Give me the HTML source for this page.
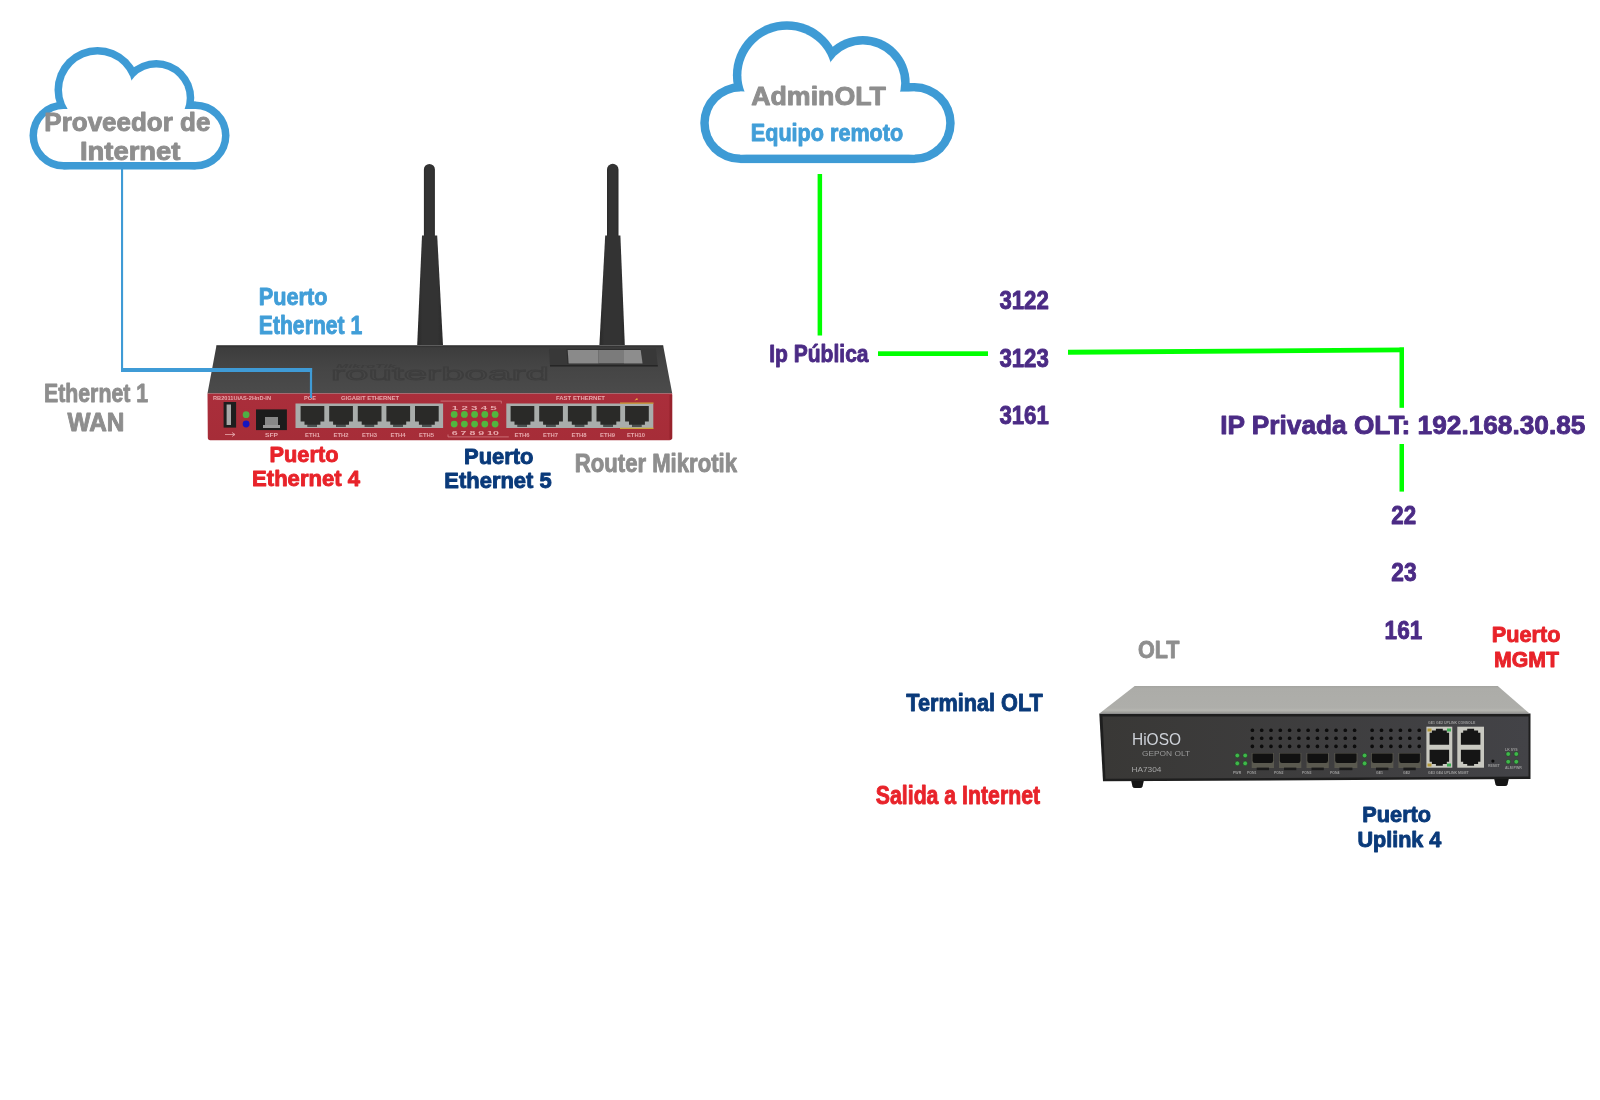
<!DOCTYPE html>
<html><head><meta charset="utf-8">
<style>
html,body{margin:0;padding:0;background:#fff;width:1600px;height:1100px;overflow:hidden;}
svg{position:absolute;left:0;top:0;will-change:transform;}
text{font-family:"Liberation Sans",sans-serif;font-weight:bold;}
</style></head><body>
<svg width="1600" height="1100" viewBox="0 0 1600 1100">
<!-- cloud 1 -->
<g fill="#3e9bd5">
<circle cx="97.5" cy="90" r="43"/><circle cx="156.25" cy="98" r="38"/>
<circle cx="63.5" cy="135.5" r="34"/><circle cx="195.5" cy="135.5" r="34"/>
<rect x="63.5" y="101.5" width="132" height="68"/>
</g>
<g fill="#fff">
<circle cx="97.5" cy="90" r="35.5"/><circle cx="156.25" cy="98" r="30.5"/>
<circle cx="63.5" cy="135.5" r="26.5"/><circle cx="195.5" cy="135.5" r="26.5"/>
<rect x="63.5" y="109" width="132" height="53"/><rect x="95" y="88" width="75" height="24"/>
</g>
<!-- cloud 2 -->
<g fill="#3e9bd5">
<circle cx="786.9" cy="75.2" r="54"/><circle cx="862.8" cy="82.9" r="46.9"/>
<circle cx="740.25" cy="123.1" r="40"/><circle cx="914.7" cy="123.1" r="40"/>
<rect x="740.25" y="83.1" width="174.45" height="80"/>
</g>
<g fill="#fff">
<circle cx="786.9" cy="75.2" r="45.5"/><circle cx="862.8" cy="82.9" r="38.4"/>
<circle cx="740.25" cy="123.1" r="31.5"/><circle cx="914.7" cy="123.1" r="31.5"/>
<rect x="740.25" y="91.6" width="174.45" height="63"/>
</g>
<!-- green lines -->
<g fill="#00ff00">
<rect x="817.6" y="174" width="4.5" height="161.5"/>
<rect x="878" y="351.3" width="110" height="4.7"/>
<polygon points="1068,349.8 1404,347.5 1404,352.3 1068,354.8"/>
<rect x="1399.5" y="347.5" width="4.5" height="60.3"/>
<rect x="1399.5" y="444" width="4.5" height="47.6"/>
</g>
<!-- ROUTER -->
<defs>
<linearGradient id="antg" x1="0" x2="1" y1="0" y2="0">
<stop offset="0" stop-color="#2a2a2a"/><stop offset="0.2" stop-color="#333"/><stop offset="0.8" stop-color="#333"/><stop offset="1" stop-color="#2a2a2a"/>
</linearGradient>
<linearGradient id="rtop" x1="0" x2="0" y1="0" y2="1">
<stop offset="0" stop-color="#363636"/><stop offset="0.05" stop-color="#3d3d3d"/><stop offset="0.45" stop-color="#454545"/><stop offset="1" stop-color="#4b4b4b"/>
</linearGradient>
<linearGradient id="rfront" x1="0" x2="0" y1="0" y2="1">
<stop offset="0" stop-color="#aa2e3b"/><stop offset="1" stop-color="#a62d38"/>
</linearGradient>
<symbol id="rj" viewBox="0 0 23.7 21" overflow="visible">
<path d="M0 0H23.7V15.5H19.8V18.7H16.3V21H7V18.7H3.9V15.5H0Z" fill="#2a2a28"/>
<rect x="7" y="18.7" width="9.3" height="2.3" fill="#4a4f4f"/>
</symbol>
</defs>
<!-- antennas -->
<g fill="url(#antg)">
<path d="M423.9 236V169.5A5.5 5.5 0 0 1 434.9 169.5V236Z"/>
<path d="M422 235.5H437.2L443 345H417.2Z"/>
<path d="M607 236V169.5A5.75 5.75 0 0 1 618.5 169.5V236Z"/>
<path d="M605.2 235.5H620.4L624.8 345H599.4Z"/>
</g>
<!-- top face -->
<path d="M216.4 345.8H663.2L672.2 393.5H207.5Z" fill="url(#rtop)"/>
<path d="M216.4 345.8H663.2" stroke="#2e2e2e" stroke-width="1"/>
<!-- LCD -->
<path d="M549 348.6H655.9L657.8 366.2H550Z" fill="#383838"/>
<path d="M550 365H657.7L657.8 366.4H550Z" fill="#262626"/>
<path d="M566.5 349H640.5L642.5 364H567.5Z" fill="#2e2e2e"/>
<path d="M567.7 350H598.7V363.4H568.6Z" fill="#8a8a8a"/>
<path d="M598.7 350H624V363.4H598.7Z" fill="#7b7b7b"/>
<path d="M624 350H640.7L642.6 363.4H624Z" fill="#8d8d8d"/>
<!-- logo -->
<text x="331" y="380" font-size="19" fill="#474747" stroke="#3d3d3d" stroke-width="1" textLength="218" lengthAdjust="spacingAndGlyphs" style="font-weight:normal">routerboard</text>
<text x="336" y="368" font-size="6" fill="#3d3d3d" textLength="60" lengthAdjust="spacingAndGlyphs" style="font-style:italic">MikroTik</text>
<!-- front panel -->
<path d="M207.5 393.5H672.2V437.5Q672.2 440.2 669.5 440.2H210.2Q207.8 440.2 207.8 437.5Z" fill="url(#rfront)"/>
<rect x="669.5" y="395" width="2.7" height="44" fill="#8e1c25" opacity="0.6"/>
<!-- USB -->
<rect x="223.6" y="402" width="12.5" height="25.6" fill="#1e1e1e"/>
<rect x="226.6" y="404.5" width="4.4" height="20.5" fill="#a8a8a8"/>
<circle cx="246.1" cy="414.7" r="3.4" fill="#4fae45"/>
<circle cx="246.1" cy="424" r="3.4" fill="#1515c0"/>
<!-- SFP -->
<rect x="256" y="409.4" width="30.9" height="20.7" fill="#1c1c1c"/>
<rect x="265" y="417" width="13" height="8" fill="#888"/>
<rect x="263" y="425" width="17" height="3" fill="#999"/>
<!-- gigabit frame -->
<rect x="295.5" y="403.5" width="147.6" height="24.5" fill="#a9adab"/>
<use href="#rj" x="300.6" y="406" width="23.7" height="21"/>
<use href="#rj" x="329.2" y="406" width="23.7" height="21"/>
<use href="#rj" x="357.8" y="406" width="23.7" height="21"/>
<use href="#rj" x="386.4" y="406" width="23.7" height="21"/>
<use href="#rj" x="415" y="406" width="23.7" height="21"/>
<!-- fast frame -->
<rect x="506.3" y="403.5" width="147" height="24.5" fill="#a9adab"/>
<path d="M620 403.1H653.5M620 428.4H653.5" stroke="#c9a33a" stroke-width="1.3"/><path d="M634.5 400.5l2.5-2.5 1 1.5z" fill="#e8b84a"/>
<use href="#rj" x="510.6" y="406" width="23.7" height="21"/>
<use href="#rj" x="539.2" y="406" width="23.7" height="21"/>
<use href="#rj" x="567.9" y="406" width="23.7" height="21"/>
<use href="#rj" x="596.5" y="406" width="23.7" height="21"/>
<use href="#rj" x="625.1" y="406" width="23.7" height="21"/>
<!-- LEDs -->
<g fill="#52b63f">
<circle cx="454.2" cy="414.4" r="3.4"/><circle cx="464.4" cy="414.4" r="3.4"/><circle cx="474.6" cy="414.4" r="3.4"/><circle cx="484.8" cy="414.4" r="3.4"/><circle cx="495.1" cy="414.4" r="3.4"/>
<circle cx="454.2" cy="424.1" r="3.4"/><circle cx="464.4" cy="424.1" r="3.4"/><circle cx="474.6" cy="424.1" r="3.4"/><circle cx="484.8" cy="424.1" r="3.4"/><circle cx="495.1" cy="424.1" r="3.4"/>
</g>
<path d="M440.5 401.1H501.3V403.5M448 434.5V436.9H508.8" fill="none" stroke="#d98a8f" stroke-width="0.7"/>
<g fill="#e7a9ad" style="font-weight:normal" font-size="6">
<text x="213" y="400" textLength="58" lengthAdjust="spacingAndGlyphs">RB2011UiAS-2HnD-IN</text>
<text x="304" y="400" textLength="12" lengthAdjust="spacingAndGlyphs">POE</text>
<text x="341" y="400" textLength="58" lengthAdjust="spacingAndGlyphs">GIGABIT ETHERNET</text>
<text x="556" y="400" textLength="49" lengthAdjust="spacingAndGlyphs">FAST ETHERNET</text>
<text x="451.8" y="409.5" textLength="45" lengthAdjust="spacingAndGlyphs">1  2  3  4  5</text>
<text x="451.8" y="434.5" textLength="47" lengthAdjust="spacingAndGlyphs">6  7  8  9 10</text>
<text x="265" y="437" textLength="13" lengthAdjust="spacingAndGlyphs">SFP</text>
<text x="305" y="437" textLength="15" lengthAdjust="spacingAndGlyphs">ETH1</text>
<text x="333.5" y="437" textLength="15" lengthAdjust="spacingAndGlyphs">ETH2</text>
<text x="362" y="437" textLength="15" lengthAdjust="spacingAndGlyphs">ETH3</text>
<text x="390.5" y="437" textLength="15" lengthAdjust="spacingAndGlyphs">ETH4</text>
<text x="419" y="437" textLength="15" lengthAdjust="spacingAndGlyphs">ETH5</text>
<text x="514.5" y="437" textLength="15" lengthAdjust="spacingAndGlyphs">ETH6</text>
<text x="543" y="437" textLength="15" lengthAdjust="spacingAndGlyphs">ETH7</text>
<text x="571.5" y="437" textLength="15" lengthAdjust="spacingAndGlyphs">ETH8</text>
<text x="600" y="437" textLength="15" lengthAdjust="spacingAndGlyphs">ETH9</text>
<text x="627" y="437" textLength="18" lengthAdjust="spacingAndGlyphs">ETH10</text>
</g>
<path d="M225 434.5H235M232 432.5L235 434.5L232 436.5" stroke="#e7a9ad" stroke-width="0.8" fill="none"/>
<!-- /ROUTER -->
<!-- WIRE -->
<g fill="#3f9bd6">
<rect x="121" y="168" width="2.1" height="204"/>
<rect x="121" y="368" width="191.1" height="4"/>
<rect x="309.9" y="368" width="2.2" height="30"/>
</g>
<!-- /WIRE -->
<!-- OLT -->
<defs>
<linearGradient id="otop" x1="0" x2="0" y1="0" y2="1">
<stop offset="0" stop-color="#a4a4a0"/><stop offset="0.1" stop-color="#acaca8"/><stop offset="0.82" stop-color="#aeaeaa"/><stop offset="0.9" stop-color="#b6b6b1"/><stop offset="1" stop-color="#9a9a96"/>
</linearGradient>
<linearGradient id="ofront" x1="0" x2="1" y1="0" y2="0">
<stop offset="0" stop-color="#393836"/><stop offset="1" stop-color="#434347"/>
</linearGradient>
<symbol id="ojack2" viewBox="0 0 20 17" overflow="visible">
<path d="M1.5 15.5H18.5V5H16.5V3H13V1.5H7V3H3.5V5H1.5Z" fill="#151515"/>
</symbol>
<symbol id="ojack" viewBox="0 0 20 17" overflow="visible">
<path d="M1.5 1.5H18.5V12H16.5V14H13V15.5H7V14H3.5V12H1.5Z" fill="#151515"/>
</symbol>
</defs>
<path d="M1131 780H1144L1142.5 786.5Q1142 788 1140 788H1135Q1133 788 1132.5 786.5Z" fill="#151515"/>
<path d="M1494 778H1509L1507.5 784.5Q1507 786 1505 786H1498Q1496 786 1495.5 784.5Z" fill="#151515"/>
<path d="M1134.7 685.9H1497.8L1529 713H1100Z" fill="url(#otop)"/>
<path d="M1099.3 713.5H1530.5V779L1103 781.3Z" fill="#1e1e1e"/>
<path d="M1102.5 716.5H1528.5V776.5L1105.5 778.8Z" fill="url(#ofront)"/>
<text x="1132" y="744.8" font-size="16.5" fill="#cfd3da" textLength="49" lengthAdjust="spacingAndGlyphs" style="font-weight:normal">HiOSO</text>
<text x="1142" y="756" font-size="7.5" fill="#9a9a9a" textLength="48" lengthAdjust="spacingAndGlyphs" style="font-weight:normal">GEPON OLT</text>
<text x="1131.4" y="772.3" font-size="7.5" fill="#a5a5a5" textLength="30" lengthAdjust="spacingAndGlyphs" style="font-weight:normal">HA7304</text>
<g fill="#0c0c0c"><rect x="1250.6" y="728.5" width="3.6" height="3.6" rx="1.6"/><rect x="1250.6" y="736.4" width="3.6" height="3.6" rx="1.6"/><rect x="1250.6" y="744.6" width="3.6" height="3.6" rx="1.6"/><rect x="1259.9" y="728.5" width="3.6" height="3.6" rx="1.6"/><rect x="1259.9" y="736.4" width="3.6" height="3.6" rx="1.6"/><rect x="1259.9" y="744.6" width="3.6" height="3.6" rx="1.6"/><rect x="1269.2" y="728.5" width="3.6" height="3.6" rx="1.6"/><rect x="1269.2" y="736.4" width="3.6" height="3.6" rx="1.6"/><rect x="1269.2" y="744.6" width="3.6" height="3.6" rx="1.6"/><rect x="1278.5" y="728.5" width="3.6" height="3.6" rx="1.6"/><rect x="1278.5" y="736.4" width="3.6" height="3.6" rx="1.6"/><rect x="1278.5" y="744.6" width="3.6" height="3.6" rx="1.6"/><rect x="1287.8" y="728.5" width="3.6" height="3.6" rx="1.6"/><rect x="1287.8" y="736.4" width="3.6" height="3.6" rx="1.6"/><rect x="1287.8" y="744.6" width="3.6" height="3.6" rx="1.6"/><rect x="1297.1" y="728.5" width="3.6" height="3.6" rx="1.6"/><rect x="1297.1" y="736.4" width="3.6" height="3.6" rx="1.6"/><rect x="1297.1" y="744.6" width="3.6" height="3.6" rx="1.6"/><rect x="1306.3" y="728.5" width="3.6" height="3.6" rx="1.6"/><rect x="1306.3" y="736.4" width="3.6" height="3.6" rx="1.6"/><rect x="1306.3" y="744.6" width="3.6" height="3.6" rx="1.6"/><rect x="1315.6" y="728.5" width="3.6" height="3.6" rx="1.6"/><rect x="1315.6" y="736.4" width="3.6" height="3.6" rx="1.6"/><rect x="1315.6" y="744.6" width="3.6" height="3.6" rx="1.6"/><rect x="1324.9" y="728.5" width="3.6" height="3.6" rx="1.6"/><rect x="1324.9" y="736.4" width="3.6" height="3.6" rx="1.6"/><rect x="1324.9" y="744.6" width="3.6" height="3.6" rx="1.6"/><rect x="1334.2" y="728.5" width="3.6" height="3.6" rx="1.6"/><rect x="1334.2" y="736.4" width="3.6" height="3.6" rx="1.6"/><rect x="1334.2" y="744.6" width="3.6" height="3.6" rx="1.6"/><rect x="1343.5" y="728.5" width="3.6" height="3.6" rx="1.6"/><rect x="1343.5" y="736.4" width="3.6" height="3.6" rx="1.6"/><rect x="1343.5" y="744.6" width="3.6" height="3.6" rx="1.6"/><rect x="1352.8" y="728.5" width="3.6" height="3.6" rx="1.6"/><rect x="1352.8" y="736.4" width="3.6" height="3.6" rx="1.6"/><rect x="1352.8" y="744.6" width="3.6" height="3.6" rx="1.6"/><rect x="1370.3" y="728.5" width="3.6" height="3.6" rx="1.6"/><rect x="1370.3" y="736.4" width="3.6" height="3.6" rx="1.6"/><rect x="1370.3" y="744.6" width="3.6" height="3.6" rx="1.6"/><rect x="1379.7" y="728.5" width="3.6" height="3.6" rx="1.6"/><rect x="1379.7" y="736.4" width="3.6" height="3.6" rx="1.6"/><rect x="1379.7" y="744.6" width="3.6" height="3.6" rx="1.6"/><rect x="1389.1" y="728.5" width="3.6" height="3.6" rx="1.6"/><rect x="1389.1" y="736.4" width="3.6" height="3.6" rx="1.6"/><rect x="1389.1" y="744.6" width="3.6" height="3.6" rx="1.6"/><rect x="1398.6" y="728.5" width="3.6" height="3.6" rx="1.6"/><rect x="1398.6" y="736.4" width="3.6" height="3.6" rx="1.6"/><rect x="1398.6" y="744.6" width="3.6" height="3.6" rx="1.6"/><rect x="1408.0" y="728.5" width="3.6" height="3.6" rx="1.6"/><rect x="1408.0" y="736.4" width="3.6" height="3.6" rx="1.6"/><rect x="1408.0" y="744.6" width="3.6" height="3.6" rx="1.6"/><rect x="1417.4" y="728.5" width="3.6" height="3.6" rx="1.6"/><rect x="1417.4" y="736.4" width="3.6" height="3.6" rx="1.6"/><rect x="1417.4" y="744.6" width="3.6" height="3.6" rx="1.6"/></g>
<rect x="1251.7" y="753" width="22.3" height="15" fill="#5a594f"/>
<path d="M1252.5 753.5H1273.2V760.5Q1273.2 763 1271.0 763H1254.7Q1252.5 763 1252.5 760.5Z" fill="#111"/>
<rect x="1256.7" y="767.6" width="12.3" height="2.6" fill="#1b1b1b"/>
<rect x="1279.0" y="753" width="22.3" height="15" fill="#5a594f"/>
<path d="M1279.8 753.5H1300.5V760.5Q1300.5 763 1298.3 763H1282.0Q1279.8 763 1279.8 760.5Z" fill="#111"/>
<rect x="1284.0" y="767.6" width="12.3" height="2.6" fill="#1b1b1b"/>
<rect x="1306.5" y="753" width="22.3" height="15" fill="#5a594f"/>
<path d="M1307.3 753.5H1328.0V760.5Q1328.0 763 1325.8 763H1309.5Q1307.3 763 1307.3 760.5Z" fill="#111"/>
<rect x="1311.5" y="767.6" width="12.3" height="2.6" fill="#1b1b1b"/>
<rect x="1334.4" y="753" width="23.0" height="15" fill="#5a594f"/>
<path d="M1335.2 753.5H1356.6V760.5Q1356.6 763 1354.4 763H1337.4Q1335.2 763 1335.2 760.5Z" fill="#111"/>
<rect x="1339.4" y="767.6" width="13.0" height="2.6" fill="#1b1b1b"/>
<rect x="1371.0" y="753" width="22.4" height="15" fill="#5a594f"/>
<path d="M1371.8 753.5H1392.6V760.5Q1392.6 763 1390.4 763H1374.0Q1371.8 763 1371.8 760.5Z" fill="#111"/>
<rect x="1376.0" y="767.6" width="12.4" height="2.6" fill="#1b1b1b"/>
<rect x="1398.4" y="753" width="22.3" height="15" fill="#5a594f"/>
<path d="M1399.2 753.5H1419.9V760.5Q1419.9 763 1417.7 763H1401.4Q1399.2 763 1399.2 760.5Z" fill="#111"/>
<rect x="1403.4" y="767.6" width="12.3" height="2.6" fill="#1b1b1b"/>
<g fill="#3fb84a" stroke="#1d3a20" stroke-width="0.5"><circle cx="1237.3" cy="755.5" r="2.3"/><circle cx="1245.2" cy="755.5" r="2.3"/><circle cx="1237.3" cy="763.4" r="2.3"/><circle cx="1245.2" cy="763.4" r="2.3"/><circle cx="1364.6" cy="755.5" r="2.3"/><circle cx="1364.6" cy="763.4" r="2.3"/><circle cx="1508.2" cy="754" r="2.3"/><circle cx="1516.3" cy="754" r="2.3"/><circle cx="1508.2" cy="761.7" r="2.3"/><circle cx="1516.3" cy="761.7" r="2.3"/></g>
<rect x="1426.4" y="726.7" width="25.9" height="41" fill="#c9c9c1"/>
<use href="#ojack2" x="1426.4" y="727" width="25.9" height="19.5"/>
<use href="#ojack" x="1426.4" y="748" width="25.9" height="19.5"/>
<rect x="1457.3" y="726.7" width="26.7" height="41" fill="#c9c9c1"/>
<use href="#ojack2" x="1457.3" y="727" width="26.7" height="19.5"/>
<use href="#ojack" x="1457.3" y="748" width="26.7" height="19.5"/>
<path d="M1427.5 728.5h4v3h-4z" fill="#b59a3a"/><path d="M1447 728.5h4v3h-4z" fill="#3fae55"/><path d="M1427.5 763.5h4v3h-4z" fill="#b59a3a"/><path d="M1447 763.5h4v3h-4z" fill="#3fae55"/>
<circle cx="1492.9" cy="761.1" r="1.6" fill="#0d0d0d"/>
<g fill="#9c9c9c" font-size="3.5" style="font-weight:normal"><text x="1247" y="773.5">PON1</text><text x="1274" y="773.5">PON2</text><text x="1302" y="773.5">PON3</text><text x="1330" y="773.5">PON4</text><text x="1376" y="773.5">GE1</text><text x="1403" y="773.5">GE2</text><text x="1428" y="773.5">GE3 GE4 UPLINK MGMT</text><text x="1428" y="723.5">GE1 GE2 UPLINK CONSOLE</text><text x="1488" y="767">RESET</text><text x="1505" y="751">LK  SYS</text><text x="1505" y="768.5">ALM PWR</text><text x="1233" y="774">PWR</text></g>
<!-- /OLT -->
<!-- TEXTS -->
<text x="44.35" y="130.8" font-size="24.86" fill="#8e8e8e" textLength="166.02" lengthAdjust="spacingAndGlyphs" stroke="#8e8e8e" stroke-width="0.9" stroke-linejoin="round">Proveedor de</text>
<text x="79.91" y="159.65" font-size="25.07" fill="#8e8e8e" textLength="100.59" lengthAdjust="spacingAndGlyphs" stroke="#8e8e8e" stroke-width="0.9" stroke-linejoin="round">Internet</text>
<text x="258.7" y="304.65" font-size="24.2" fill="#419ed8" textLength="68.74" lengthAdjust="spacingAndGlyphs" stroke="#419ed8" stroke-width="0.9" stroke-linejoin="round">Puerto</text>
<text x="258.75" y="333.8" font-size="24.93" fill="#419ed8" textLength="103.58" lengthAdjust="spacingAndGlyphs" stroke="#419ed8" stroke-width="0.9" stroke-linejoin="round">Ethernet 1</text>
<text x="44.05" y="401.7" font-size="25.0" fill="#8e8e8e" textLength="103.98" lengthAdjust="spacingAndGlyphs" stroke="#8e8e8e" stroke-width="0.9" stroke-linejoin="round">Ethernet 1</text>
<text x="67.5" y="430.8" font-size="25.0" fill="#8e8e8e" textLength="56.9" lengthAdjust="spacingAndGlyphs" stroke="#8e8e8e" stroke-width="0.9" stroke-linejoin="round">WAN</text>
<text x="269.6" y="461.7" font-size="21.8" fill="#e8232a" textLength="68.83" lengthAdjust="spacingAndGlyphs" stroke="#e8232a" stroke-width="0.9" stroke-linejoin="round">Puerto</text>
<text x="252.09" y="485.8" font-size="21.8" fill="#e8232a" textLength="107.9" lengthAdjust="spacingAndGlyphs" stroke="#e8232a" stroke-width="0.9" stroke-linejoin="round">Ethernet 4</text>
<text x="464.09" y="463.6" font-size="21.66" fill="#0a3a7a" textLength="69.37" lengthAdjust="spacingAndGlyphs" stroke="#0a3a7a" stroke-width="0.9" stroke-linejoin="round">Puerto</text>
<text x="444.39" y="487.7" font-size="21.8" fill="#0a3a7a" textLength="107.2" lengthAdjust="spacingAndGlyphs" stroke="#0a3a7a" stroke-width="0.9" stroke-linejoin="round">Ethernet 5</text>
<text x="574.81" y="471.9" font-size="24.86" fill="#8e8e8e" textLength="162.19" lengthAdjust="spacingAndGlyphs" stroke="#8e8e8e" stroke-width="0.9" stroke-linejoin="round">Router Mikrotik</text>
<text x="751.2" y="104.7" font-size="24.86" fill="#8e8e8e" textLength="134.73" lengthAdjust="spacingAndGlyphs" stroke="#8e8e8e" stroke-width="0.9" stroke-linejoin="round">AdminOLT</text>
<text x="750.8" y="140.8" font-size="24.13" fill="#419ed8" textLength="152.39" lengthAdjust="spacingAndGlyphs" stroke="#419ed8" stroke-width="0.9" stroke-linejoin="round">Equipo remoto</text>
<text x="769.23" y="361.6" font-size="24.27" fill="#4b2b85" textLength="99.34" lengthAdjust="spacingAndGlyphs" stroke="#4b2b85" stroke-width="0.9" stroke-linejoin="round">Ip Pública</text>
<text x="999.4" y="309.2" font-size="25.58" fill="#4b2b85" textLength="49.42" lengthAdjust="spacingAndGlyphs" stroke="#4b2b85" stroke-width="0.9" stroke-linejoin="round">3122</text>
<text x="999.4" y="366.8" font-size="25.58" fill="#4b2b85" textLength="49.42" lengthAdjust="spacingAndGlyphs" stroke="#4b2b85" stroke-width="0.9" stroke-linejoin="round">3123</text>
<text x="999.4" y="424.2" font-size="25.58" fill="#4b2b85" textLength="49.42" lengthAdjust="spacingAndGlyphs" stroke="#4b2b85" stroke-width="0.9" stroke-linejoin="round">3161</text>
<text x="1220.24" y="434.3" font-size="26.02" fill="#4b2b85" textLength="365.19" lengthAdjust="spacingAndGlyphs" stroke="#4b2b85" stroke-width="0.9" stroke-linejoin="round">IP Privada OLT: 192.168.30.85</text>
<text x="1391.3" y="523.9" font-size="26.31" fill="#4b2b85" textLength="24.83" lengthAdjust="spacingAndGlyphs" stroke="#4b2b85" stroke-width="0.9" stroke-linejoin="round">22</text>
<text x="1391.3" y="581.4" font-size="25.87" fill="#4b2b85" textLength="25.27" lengthAdjust="spacingAndGlyphs" stroke="#4b2b85" stroke-width="0.9" stroke-linejoin="round">23</text>
<text x="1384.61" y="638.8" font-size="25.44" fill="#4b2b85" textLength="37.56" lengthAdjust="spacingAndGlyphs" stroke="#4b2b85" stroke-width="0.9" stroke-linejoin="round">161</text>
<text x="1137.88" y="657.65" font-size="24.71" fill="#8e8e8e" textLength="41.46" lengthAdjust="spacingAndGlyphs" stroke="#8e8e8e" stroke-width="0.9" stroke-linejoin="round">OLT</text>
<text x="1491.79" y="642.4" font-size="21.44" fill="#e8232a" textLength="68.65" lengthAdjust="spacingAndGlyphs" stroke="#e8232a" stroke-width="0.9" stroke-linejoin="round">Puerto</text>
<text x="1494.02" y="666.65" font-size="21.73" fill="#e8232a" textLength="65.05" lengthAdjust="spacingAndGlyphs" stroke="#e8232a" stroke-width="0.9" stroke-linejoin="round">MGMT</text>
<text x="906.3" y="710.7" font-size="24.42" fill="#0a3a7a" textLength="136.52" lengthAdjust="spacingAndGlyphs" stroke="#0a3a7a" stroke-width="0.9" stroke-linejoin="round">Terminal OLT</text>
<text x="875.8" y="803.9" font-size="25.44" fill="#e8232a" textLength="164.28" lengthAdjust="spacingAndGlyphs" stroke="#e8232a" stroke-width="0.9" stroke-linejoin="round">Salida a Internet</text>
<text x="1362.39" y="822.4" font-size="21.44" fill="#0a3a7a" textLength="68.7" lengthAdjust="spacingAndGlyphs" stroke="#0a3a7a" stroke-width="0.9" stroke-linejoin="round">Puerto</text>
<text x="1357.41" y="846.65" font-size="21.73" fill="#0a3a7a" textLength="83.98" lengthAdjust="spacingAndGlyphs" stroke="#0a3a7a" stroke-width="0.9" stroke-linejoin="round">Uplink 4</text>
<!-- /TEXTS -->
</svg>
</body></html>
